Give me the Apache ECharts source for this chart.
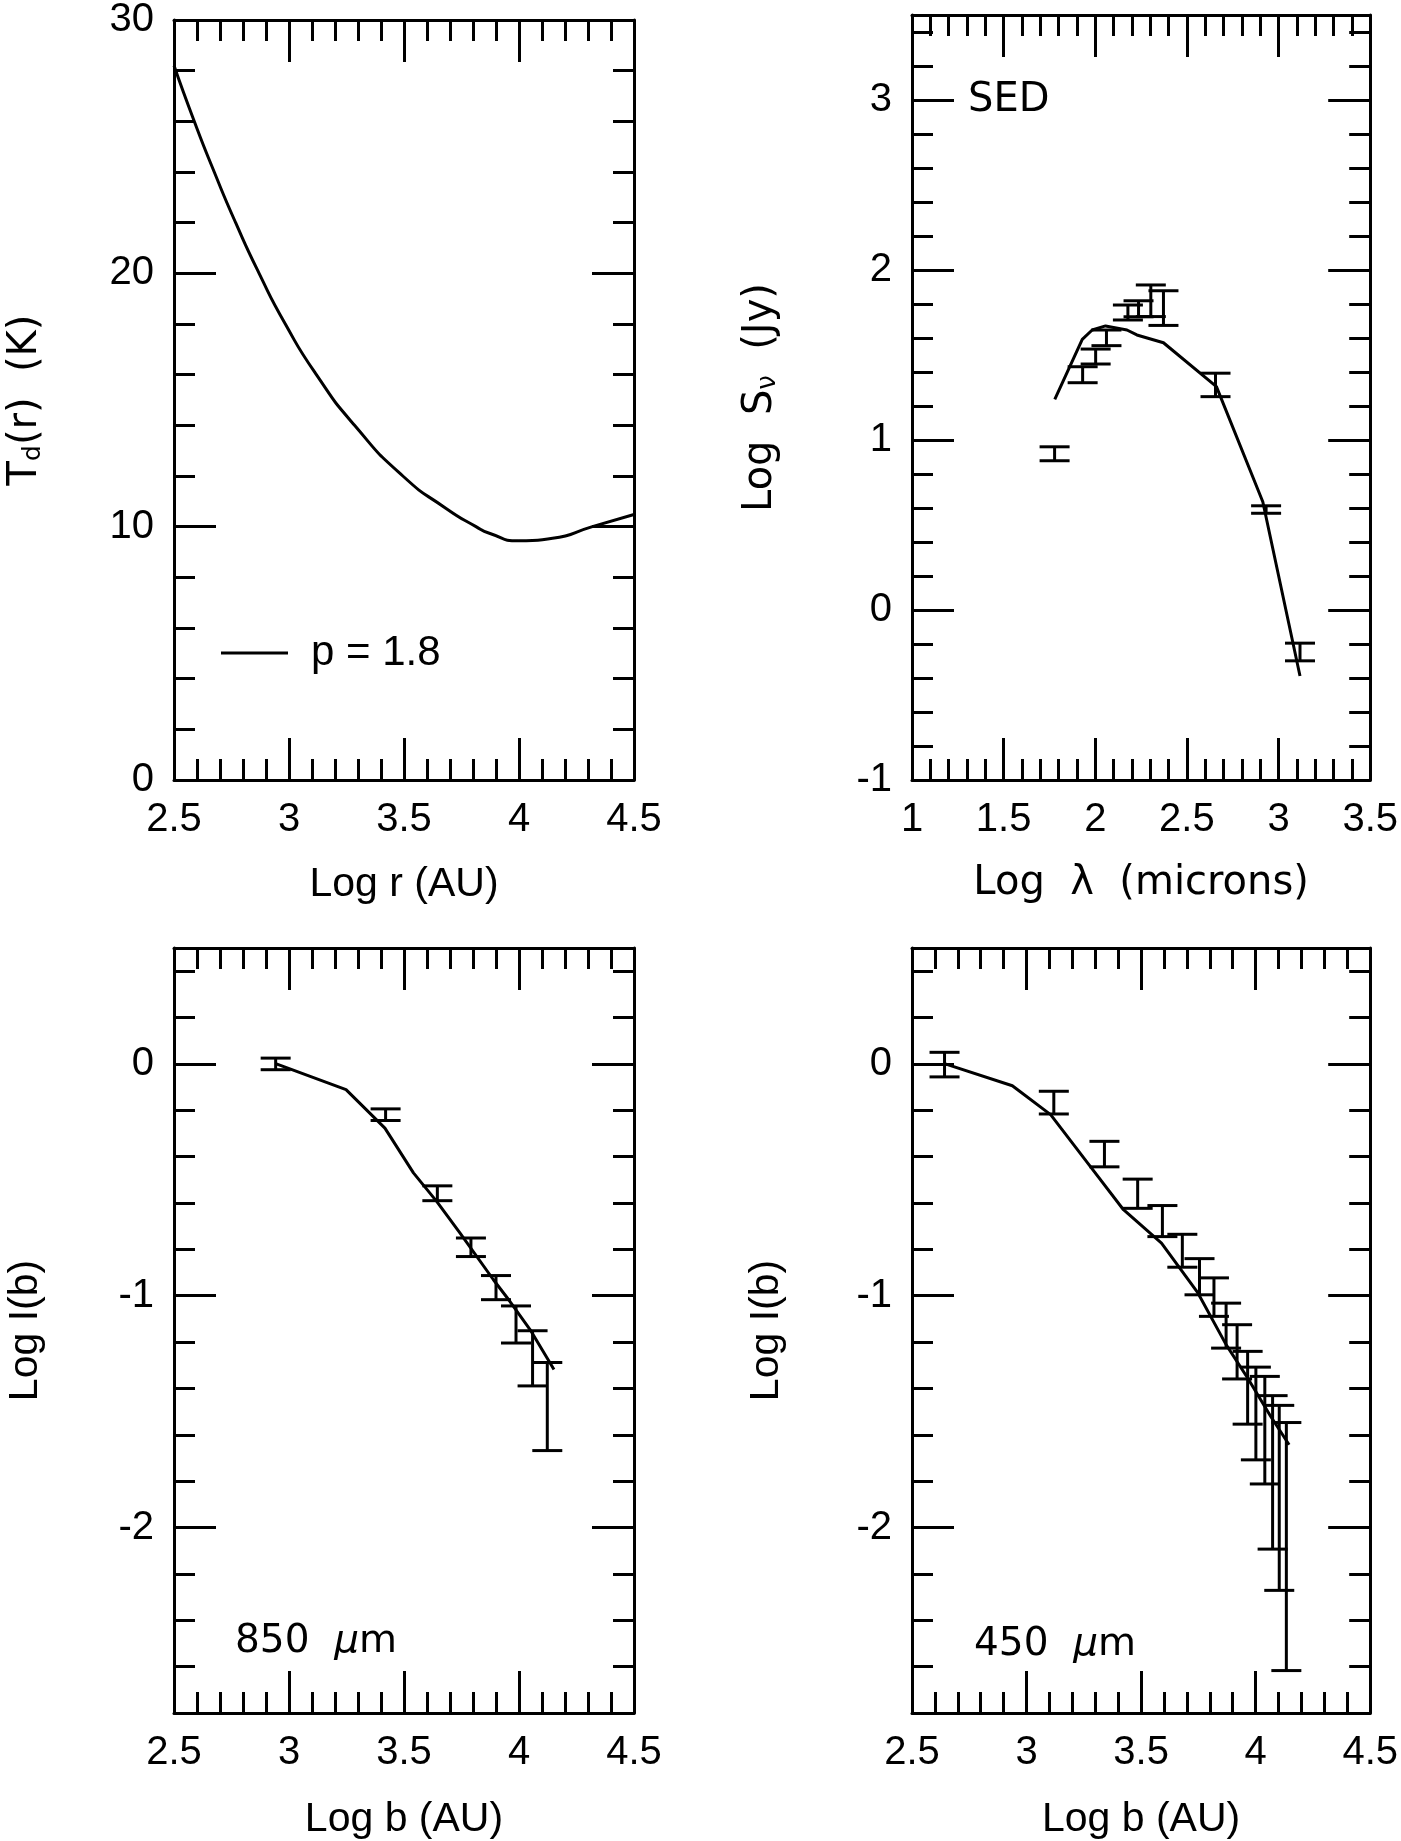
<!DOCTYPE html>
<html>
<head>
<meta charset="utf-8">
<title>Dust temperature, SED and intensity profiles</title>
<script src="https://cdn.jsdelivr.net/npm/echarts@6/dist/echarts.min.js"></script>
<style>
  html, body { margin: 0; padding: 0; background: #fff; }
  #chart { width: 1401px; height: 1841px; }
</style>
</head>
<body>
<div id="chart"></div>
<script>
// ---- data ----
// top left: dust temperature profile, p = 1.8
const logR = [2.5, 2.588, 2.675, 2.768, 2.870, 2.984, 3.119, 3.285, 3.495, 3.683, 3.813, 3.871, 4.0, 4.146, 4.319, 4.5];
const tempK = [28.2, 26.0, 24.0, 22.0, 20.0, 18.0, 16.0, 14.0, 12.0, 10.72, 10.0, 9.74, 9.44, 9.54, 10.0, 10.48];

// top right: SED, observed points with errors and the model
const sedLogLam = [1.778, 1.931, 2.002, 2.061, 2.178, 2.236, 2.303, 2.372, 2.656, 2.932, 3.117];
const sedLogS = [0.919, 1.384, 1.491, 1.601, 1.750, 1.772, 1.819, 1.776, 1.324, 0.591, -0.247];
const sedErr = [0.041, 0.047, 0.044, 0.046, 0.044, 0.047, 0.093, 0.102, 0.069, 0.022, 0.052];
const sedModelLam = [1.779, 1.929, 1.983, 2.056, 2.173, 2.227, 2.372, 2.661, 2.914, 3.117];
const sedModelS = [1.239, 1.592, 1.647, 1.671, 1.647, 1.618, 1.572, 1.314, 0.637, -0.388];

// bottom left: 850 micron intensity profile
const b850 = [2.942, 3.420, 3.645, 3.791, 3.900, 3.987, 4.059, 4.123];
const i850 = [0.000, -0.219, -0.558, -0.791, -0.965, -1.124, -1.270, -1.478];
const e850 = [0.025, 0.025, 0.032, 0.040, 0.052, 0.080, 0.119, 0.190];
const m850B = [2.945, 3.248, 3.417, 3.541, 3.642, 3.743, 3.888, 3.961, 4.048, 4.152];
const m850I = [0.000, -0.111, -0.277, -0.470, -0.593, -0.729, -0.930, -1.025, -1.146, -1.318];

// bottom right: 450 micron intensity profile
const b450 = [2.642, 3.119, 3.340, 3.485, 3.593, 3.680, 3.755, 3.818, 3.871, 3.919, 3.965, 4.001, 4.040, 4.074, 4.103, 4.134];
const i450 = [-0.003, -0.167, -0.389, -0.560, -0.678, -0.806, -0.918, -1.006, -1.129, -1.242, -1.397, -1.508, -1.580, -1.762, -1.872, -2.082];
const e450 = [0.053, 0.049, 0.055, 0.063, 0.067, 0.071, 0.078, 0.083, 0.097, 0.117, 0.157, 0.200, 0.232, 0.331, 0.399, 0.535];
const m450B = [2.645, 2.938, 3.105, 3.278, 3.423, 3.589, 3.748, 3.871, 3.965, 4.066, 4.146];
const m450I = [0.000, -0.094, -0.219, -0.442, -0.629, -0.773, -0.988, -1.211, -1.355, -1.521, -1.643];

// tick labels
const ticksLogR = [2.5, 3, 3.5, 4, 4.5];
const ticksTemp = [0, 10, 20, 30];
const ticksLogLam = [1, 1.5, 2, 2.5, 3, 3.5];
const ticksLogS = [-1, 0, 1, 2, 3];
const ticksLogB = [2.5, 3, 3.5, 4, 4.5];
const ticksLogI = [-2, -1, 0];

// ---- styling ----
const FONT = '"Liberation Sans", Arial, Helvetica, sans-serif';
const WIDE = '"DejaVu Sans", Verdana, sans-serif';
const INK = '#000';
const LW = 3;

var chart = echarts.init(document.getElementById('chart'), null, { renderer: 'canvas' });

var grids = [
    { left: 174, top: 15, width: 460, height: 765 },
    { left: 912, top: 15, width: 461, height: 765 },
    { left: 174, top: 948, width: 460, height: 765 },
    { left: 912, top: 948, width: 461, height: 765 }
];

var xAxes = [];
var yAxes = [];

// one side of the frame = a major axis (long ticks, maybe labels) + a minor axis (short ticks)
function side(list, dim, g, position, min, max, ticks, minor, withLabels, name, nameGap, nameStyle) {
    var major = {
        gridIndex: g, type: 'value', position: position, min: min, max: max,
        axisLine: { show: true, onZero: false, lineStyle: { color: INK, width: LW } },
        axisTick: { show: true, inside: true, length: 42, customValues: ticks, lineStyle: { color: INK, width: LW } },
        axisLabel: {
            show: withLabels, customValues: ticks, margin: 20, color: INK,
            fontSize: 40, fontFamily: FONT, showMinLabel: true, showMaxLabel: true, hideOverlap: false
        },
        splitLine: { show: false }
    };
    if (name) {
        major.name = name;
        major.nameLocation = 'middle';
        major.nameGap = nameGap;
        major.nameTextStyle = nameStyle;
        if (dim === 'y') major.nameRotate = 90;
    }
    list.push(major);
    var idx = list.length - 1;
    list.push({
        gridIndex: g, type: 'value', position: position, min: min, max: max, interval: minor,
        axisLine: { show: false, onZero: false },
        axisTick: { show: true, inside: true, length: 21, lineStyle: { color: INK, width: LW } },
        axisLabel: { show: false },
        splitLine: { show: false }
    });
    return idx;
}

function frame(g, xr, yr) {
    var xi = side(xAxes, 'x', g, 'bottom', xr.min, xr.max, xr.ticks, xr.minor, true, xr.name, xr.gap, xr.style);
    side(xAxes, 'x', g, 'top', xr.min, xr.max, xr.ticks, xr.minor, false);
    var yi = side(yAxes, 'y', g, 'left', yr.min, yr.max, yr.ticks, yr.minor, true, yr.name, yr.gap, yr.style);
    side(yAxes, 'y', g, 'right', yr.min, yr.max, yr.ticks, yr.minor, false);
    return { x: xi, y: yi };
}

var plainTitle = { color: INK, fontSize: 41, fontFamily: FONT };
var wideTitle = { color: INK, fontSize: 40, fontFamily: WIDE };
function wideRich(subSize) {
    return {
        color: INK, fontSize: 40, fontFamily: WIDE,
        rich: {
            t: { color: INK, fontSize: 40, fontFamily: WIDE },
            s: { color: INK, fontSize: subSize, fontFamily: WIDE, verticalAlign: 'bottom' }
        }
    };
}

var axTL = frame(0,
    { min: 2.5, max: 4.5, ticks: ticksLogR, minor: 0.1, name: 'Log r (AU)', gap: 84, style: plainTitle },
    { min: 0, max: 30, ticks: ticksTemp, minor: 2, name: '{t|T}{s|d}{t|(r)  (K)}', gap: 128, style: wideRich(25) });

var axTR = frame(1,
    { min: 1, max: 3.5, ticks: ticksLogLam, minor: 0.1, name: 'Log  λ  (microns)', gap: 84, style: wideTitle },
    { min: -1, max: 3.5, ticks: ticksLogS, minor: 0.2, name: '{t|Log  S}{s|ν}{t|  (Jy)}', gap: 131, style: wideRich(26) });

var axBL = frame(2,
    { min: 2.5, max: 4.5, ticks: ticksLogB, minor: 0.1, name: 'Log b (AU)', gap: 86, style: plainTitle },
    { min: -2.8, max: 0.5, ticks: ticksLogI, minor: 0.2, name: 'Log I(b)', gap: 128, style: plainTitle });

var axBR = frame(3,
    { min: 2.5, max: 4.5, ticks: ticksLogB, minor: 0.1, name: 'Log b (AU)', gap: 86, style: plainTitle },
    { min: -2.8, max: 0.5, ticks: ticksLogI, minor: 0.2, name: 'Log I(b)', gap: 125, style: plainTitle });

function pairs(xs, ys) {
    return xs.map(function (x, i) { return [x, ys[i]]; });
}

function errRows(xs, ys, es) {
    return xs.map(function (x, i) { return [x, ys[i] - es[i], ys[i] + es[i]]; });
}

function renderErrorBar(params, api) {
    var lo = api.coord([api.value(0), api.value(1)]);
    var hi = api.coord([api.value(0), api.value(2)]);
    var hw = 15;
    var st = { stroke: INK, lineWidth: LW };
    return {
        type: 'group',
        children: [
            { type: 'line', shape: { x1: lo[0], y1: lo[1], x2: hi[0], y2: hi[1] }, style: st },
            { type: 'line', shape: { x1: lo[0] - hw, y1: lo[1], x2: lo[0] + hw, y2: lo[1] }, style: st },
            { type: 'line', shape: { x1: hi[0] - hw, y1: hi[1], x2: hi[0] + hw, y2: hi[1] }, style: st }
        ]
    };
}

function lineSeries(name, ax, data, smooth) {
    return {
        name: name, type: 'line', xAxisIndex: ax.x, yAxisIndex: ax.y, data: data,
        symbol: 'none', smooth: smooth || false,
        lineStyle: { color: INK, width: LW }, itemStyle: { color: INK }, z: 3
    };
}

function errSeries(name, ax, data) {
    return {
        name: name, type: 'custom', xAxisIndex: ax.x, yAxisIndex: ax.y, data: data,
        renderItem: renderErrorBar, encode: { x: 0, y: [1, 2] }, z: 2
    };
}

var noteRich = {
    n: { fill: INK, fontSize: 39, fontFamily: WIDE },
    m: { fill: INK, fontSize: 39, fontFamily: WIDE, fontStyle: 'italic' }
};

var option = {
    backgroundColor: '#fff',
    animation: false,
    grid: grids,
    xAxis: xAxes,
    yAxis: yAxes,
    legend: [{
        data: ['p = 1.8'], left: 221, top: 632, padding: 0, orient: 'horizontal',
        icon: 'rect', itemWidth: 67, itemHeight: 3, selectedMode: false,
        itemStyle: { color: INK, borderWidth: 0 },
        textStyle: { color: INK, fontSize: 42, fontFamily: FONT, padding: [0, 0, 0, 18] }
    }],
    graphic: [
        { type: 'text', x: 968, y: 101, style: { text: 'SED', fill: INK, font: '40px ' + WIDE, verticalAlign: 'middle' } },
        { type: 'text', x: 235, y: 1642, style: { text: '{n|850  }{m|μ}{n|m}', verticalAlign: 'middle', rich: noteRich } },
        { type: 'text', x: 974, y: 1645, style: { text: '{n|450  }{m|μ}{n|m}', verticalAlign: 'middle', rich: noteRich } }
    ],
    series: [
        lineSeries('p = 1.8', axTL, pairs(logR, tempK), 0.6),
        errSeries('SED data', axTR, errRows(sedLogLam, sedLogS, sedErr)),
        lineSeries('SED model', axTR, pairs(sedModelLam, sedModelS)),
        errSeries('850 data', axBL, errRows(b850, i850, e850)),
        lineSeries('850 model', axBL, pairs(m850B, m850I)),
        errSeries('450 data', axBR, errRows(b450, i450, e450)),
        lineSeries('450 model', axBR, pairs(m450B, m450I))
    ]
};

chart.setOption(option);
</script>
</body>
</html>
